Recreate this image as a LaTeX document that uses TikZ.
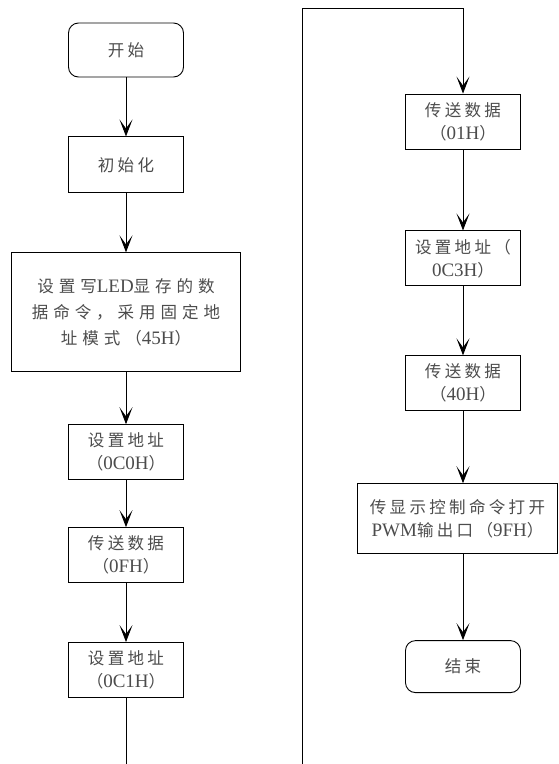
\documentclass[tikz,border=0pt]{standalone}
\usepackage{fontspec}
\setmainfont{Liberation Serif}
\newfontfamily\cjk[Scale=0.87,LetterSpace=20]{Noto Sans CJK SC}
\newfontfamily\cjkwide[Scale=0.87,LetterSpace=30]{Noto Sans CJK SC}
\newcommand{\zh}[1]{{\cjk #1}}
\newcommand{\zhw}[1]{{\cjkwide #1}}
\usetikzlibrary{positioning,arrows.meta}

\tikzset{
  term/.style={draw,rounded corners=10pt,minimum width=115pt,minimum height=54pt,align=center},
  proc/.style={draw,minimum width=115pt,minimum height=55pt,align=center},
  flow/.style={-{Stealth[length=17pt,width=13pt,inset=9pt]}},
}

\begin{document}
\begin{tikzpicture}[x=1pt,y=1pt,font=\fontsize{19}{23}\selectfont,text=black!70,line width=0.9pt]
\useasboundingbox (0,0) rectangle (558,-764);
% left column
\node[term] (start) at (126,-50) {\zh{开始}};
\node[proc,minimum height=56pt] (init) [below=59pt of start] {\zh{初始化}};
\node[proc,minimum width=229pt,minimum height=119pt,font=\fontsize{19}{26}\selectfont] (cmd) [below=59pt of init]
  {\zhw{设置写}LED\zhw{显存的数}\\\zhw{据命令，采用固定地}\\\zhw{址模式（}45H\zhw{）}};
\node[proc] (addr0) [below=52pt of cmd] {\zh{设置地址}\\\zh{（}0C0H\zh{）}};
\node[proc] (data0) [below=47pt of addr0] {\zh{传送数据}\\\zh{（}0FH\zh{）}};
\node[proc] (addr1) [below=59pt of data0] {\zh{设置地址}\\\zh{（}0C1H\zh{）}};
\coordinate (outA) at (126,-764);

% right column
\coordinate (inA) at (302,-764);
\coordinate (inB) at (302,-8);
\coordinate (inC) at (463,-8);
\node[proc] (data1) at (463,-121.5) {\zh{传送数据}\\\zh{（}01H\zh{）}};
\node[proc] (addr3) [below=81pt of data1] {\zh{设置地址（}\\0C3H\zh{）}};
\node[proc] (data4) [below=69pt of addr3] {\zh{传送数据}\\\zh{（}40H\zh{）}};
\node[proc,minimum width=200pt,minimum height=70pt] (pwm) [below=72pt of data4,xshift=-5.5pt]
  {\zh{传显示控制命令打开}\\PWM\zh{输出口（}9FH\zh{）}};
\node[term,minimum height=52pt] (stop) [below=86pt of pwm.south-|data4,anchor=north] {\zh{结束}};

\draw[flow] (start) -- (init);
\draw[flow] (init) -- (cmd);
\draw[flow] (cmd) -- (addr0);
\draw[flow] (addr0) -- (data0);
\draw[flow] (data0) -- (addr1);
\draw (addr1) -- (outA);

\draw[flow] (inA) -- (inB) -- (inC) -- (data1);
\draw[flow] (data1) -- (addr3);
\draw[flow] (addr3) -- (data4);
\draw[flow] (data4) -- (data4|-pwm.north);
\draw[flow] (data4|-pwm.south) -- (stop);
\end{tikzpicture}
\end{document}
